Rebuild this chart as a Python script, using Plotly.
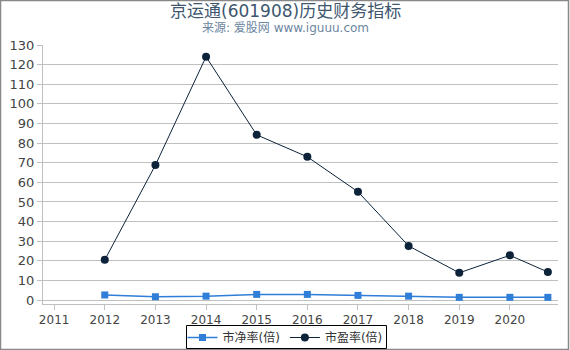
import plotly.graph_objects as go

years = [2012, 2013, 2014, 2015, 2016, 2017, 2018, 2019, 2020, 2020.75]
pb = [2.6, 1.7, 2.0, 2.9, 2.9, 2.4, 2.0, 1.4, 1.4, 1.4]
pe = [20.5, 68.8, 124.0, 84.2, 73.0, 55.2, 27.6, 13.9, 22.8, 14.3]
xticks = [2011, 2012, 2013, 2014, 2015, 2016, 2017, 2018, 2019, 2020]
yticks = list(range(0, 131, 10))

W, H = 570, 350
L, R, T, B = 43, 12, 45, 46
pw, ph = W - L - R, H - T - B

font = "DejaVu Sans, Noto Sans CJK SC, sans-serif"

fig = go.Figure()
fig.add_trace(go.Scatter(
    x=years, y=pb, name="市净率(倍)", mode="lines+markers",
    line=dict(color="#2f7ed8", width=1.5),
    marker=dict(symbol="square", size=7, color="#2f7ed8"),
))
fig.add_trace(go.Scatter(
    x=years, y=pe, name="市盈率(倍)", mode="lines+markers",
    line=dict(color="#0d233a", width=1),
    marker=dict(symbol="circle", size=8, color="#0d233a"),
))

def px_x(p):
    return (p - L) / pw

def px_y(p):
    return (H - B - p) / ph

fig.update_layout(
    width=W, height=H,
    margin=dict(l=L, r=R, t=T, b=B, autoexpand=False),
    paper_bgcolor="white", plot_bgcolor="white",
    font=dict(family=font, size=12, color="#444444"),
    showlegend=True,
    legend=dict(
        orientation="h", x=px_x(285), xanchor="center", y=px_y(337.5), yanchor="middle",
        borderwidth=0, bgcolor="rgba(0,0,0,0)", font=dict(size=12, color="#333333"),
        itemwidth=30, tracegroupgap=0,
    ),
    xaxis=dict(
        range=[2010.78, 2020.95], tickvals=xticks, ticktext=[str(v) for v in xticks],
        showgrid=False, zeroline=False, showline=True, linecolor="#C0C0C0", linewidth=1,
        ticks="outside", ticklen=5, tickcolor="#C0C0C0", tickfont=dict(size=12, color="#444444"),
    ),
    yaxis=dict(
        range=[-2, 130], tickvals=yticks,
        showgrid=True, gridcolor="#C0C0C0", gridwidth=1, zeroline=False,
        showline=True, linecolor="#C0C0C0", linewidth=1,
        ticks="outside", ticklen=5, tickcolor="#C0C0C0", tickfont=dict(size=13, color="#444444"),
    ),
    annotations=[
        dict(text="京运通(601908)历史财务指标", xref="paper", yref="paper",
             x=px_x(285), y=px_y(11), xanchor="center", yanchor="middle",
             showarrow=False, font=dict(size=17, color="#3E576F")),
        dict(text="来源: 爱股网 www.iguuu.com", xref="paper", yref="paper",
             x=px_x(285), y=px_y(28), xanchor="center", yanchor="middle",
             showarrow=False, font=dict(size=12, color="#6D869F")),
    ],
    shapes=[
        dict(type="rect", xref="paper", yref="paper",
             x0=px_x(0.5), x1=px_x(W - 1.5), y0=px_y(H - 0.5), y1=px_y(0.5),
             line=dict(color="#888888", width=1.5), layer="below"),
        dict(type="rect", xref="paper", yref="paper",
             x0=px_x(186.5), x1=px_x(386.5), y0=px_y(348.5), y1=px_y(325.5),
             line=dict(color="black", width=1), layer="below"),
    ],
)

fig.write_html("out.html")
